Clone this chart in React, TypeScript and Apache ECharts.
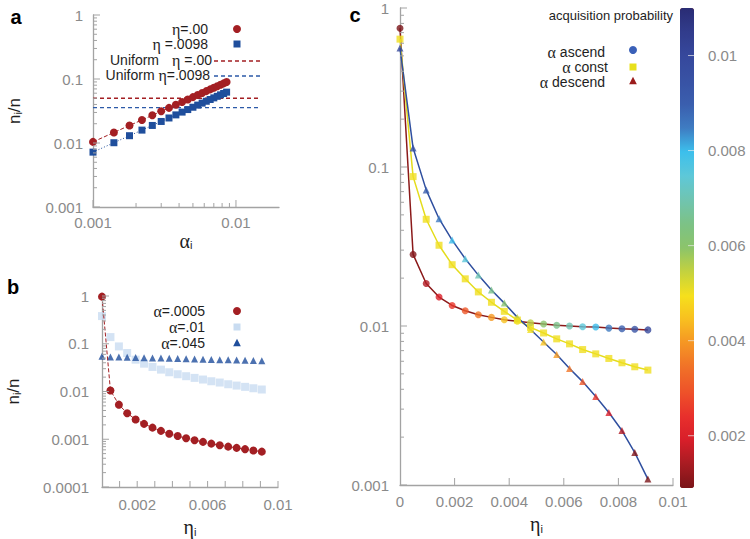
import React, { useEffect, useRef } from 'react';
import * as echarts from 'echarts';

// ---------- Panel a ----------
const aAlpha = [0.001, 0.0014, 0.0018, 0.0022, 0.0026, 0.003, 0.0034, 0.0038, 0.0042, 0.0046, 0.005, 0.0054, 0.0058, 0.0062, 0.0066, 0.007, 0.0074, 0.0078, 0.0082, 0.0086];
const aEta00 = [0.0104, 0.0146, 0.0188, 0.0229, 0.0271, 0.0313, 0.0354, 0.0396, 0.0438, 0.0479, 0.0521, 0.0563, 0.0604, 0.0646, 0.0688, 0.0729, 0.0771, 0.0813, 0.0854, 0.0896];
const aEta0098 = [0.0072, 0.0101, 0.013, 0.0159, 0.0188, 0.0217, 0.0246, 0.0275, 0.0304, 0.0333, 0.0362, 0.0391, 0.042, 0.0449, 0.0478, 0.0507, 0.0536, 0.0565, 0.0594, 0.0623];
const aUniformX = [0.001, 0.0145];
const aUniform00 = 0.05;
const aUniform0098 = 0.0356;

// ---------- Panel b / c shared eta ----------
const eta = [0, 0.00048, 0.00096, 0.00143, 0.00191, 0.00239, 0.00287, 0.00335, 0.00382, 0.0043, 0.00478, 0.00526, 0.00574, 0.00621, 0.00669, 0.00717, 0.00765, 0.00813, 0.0086, 0.00908];

// ---------- Panel b ----------
const bAlpha0005 = [0.97, 0.0105, 0.0053, 0.0035, 0.0026, 0.0021, 0.00175, 0.0015, 0.0013, 0.00117, 0.00105, 0.00095, 0.00088, 0.00081, 0.00075, 0.0007, 0.00066, 0.00062, 0.00058, 0.00055];
const bAlpha01 = [0.38, 0.138, 0.088, 0.064, 0.0464, 0.0383, 0.0327, 0.0287, 0.0253, 0.023, 0.0209, 0.0193, 0.0178, 0.0164, 0.0154, 0.0142, 0.0133, 0.0125, 0.0117, 0.011];
const bAlpha045 = [0.0545, 0.053, 0.0525, 0.052, 0.0515, 0.051, 0.0505, 0.05, 0.0495, 0.049, 0.0485, 0.048, 0.0475, 0.047, 0.0465, 0.046, 0.0455, 0.045, 0.0445, 0.044];

// ---------- Panel c ----------
const cAscend = [0.746, 0.0282, 0.0185, 0.0152, 0.01346, 0.01247, 0.01177, 0.01133, 0.01096, 0.0107, 0.01047, 0.0103, 0.0101, 0.01, 0.0099, 0.00986, 0.0097, 0.0096, 0.00955, 0.00945];
const cConst = [0.637, 0.087, 0.0469, 0.0322, 0.0243, 0.0198, 0.01638, 0.0141, 0.01236, 0.0109, 0.0098, 0.00904, 0.0083, 0.00772, 0.00711, 0.00668, 0.00625, 0.00587, 0.00554, 0.00528];
const cDescend = [0.56, 0.1315, 0.0718, 0.0473, 0.0347, 0.0265, 0.0209, 0.01686, 0.01393, 0.01133, 0.0095, 0.00794, 0.00662, 0.0054, 0.00447, 0.0036, 0.00286, 0.0022, 0.0016, 0.00109];
const cAscendAlpha = [0.0005, 0.001, 0.0015, 0.002, 0.0025, 0.003, 0.0035, 0.004, 0.0045, 0.005, 0.0055, 0.006, 0.0065, 0.007, 0.0075, 0.008, 0.0085, 0.009, 0.0095, 0.01];
const cDescendAlpha = [0.01, 0.0095, 0.009, 0.0085, 0.008, 0.0075, 0.007, 0.0065, 0.006, 0.0055, 0.005, 0.0045, 0.004, 0.0035, 0.003, 0.0025, 0.002, 0.0015, 0.001, 0.0005];
const cConstAlpha = 0.005;

// colour bar
const cbMin = 0.0009;
const cbMax = 0.011;
const cbTicks = [0.002, 0.004, 0.006, 0.008, 0.01];
const cbColors = ['#7a1418', '#a81c22', '#d81e2a', '#e8302c', '#ee5229', '#f07028', '#f59424', '#f8be20', '#f6e01c', '#c4d23e', '#8cc46a', '#7cc286', '#70c4b0', '#5ec8d8', '#3cbfec', '#3f7cc2', '#3a5eae', '#3852a4', '#36489c', '#313c8c', '#2a2c74'];

// tick values / labels
const logMajor3 = [-3, -2, -1, 0];
const logMajor4 = [-4, -3, -2, -1, 0];
const aAlphaLabels = [-3, -2];
const bEtaLabels = [0.002, 0.006, 0.01];
const bEtaTicks = [0.001, 0.002, 0.003, 0.004, 0.005, 0.006, 0.007, 0.008, 0.009, 0.01];
const cEtaTicks = [0.002, 0.004, 0.006, 0.008, 0.01];

const FONT = "'Liberation Sans', Arial, Helvetica, sans-serif";
const SERIF = "'Liberation Serif', 'DejaVu Serif', serif";
const AXIS_COLOR = '#a3a3a3';
const LABEL_COLOR = '#8a8a8a';
const TEXT_COLOR = '#1e1e1e';
const RED = '#a31f23';
const BLUE = '#1f4e9c';
const LIGHTBLUE = '#c9dcf1';

const L = (v: number) => Math.log10(v);
const logLabel = (v: number) => String(parseFloat(Math.pow(10, v).toPrecision(3)));
const plainLabel = (v: number) => String(parseFloat(v.toPrecision(3)));

function minorLog(lo: number, hi: number) {
  const out: number[] = [];
  for (let d = lo; d < hi; d++) for (let k = 2; k <= 9; k++) out.push(d + Math.log10(k));
  return out;
}

function mainAxis(o: any) {
  return {
    type: 'value',
    gridIndex: o.grid,
    min: o.min,
    max: o.max,
    position: o.position,
    interval: o.interval,
    name: o.name,
    nameLocation: 'middle',
    nameGap: o.nameGap,
    nameTextStyle: o.nameTextStyle,
    axisLine: { show: o.line !== false, onZero: false, lineStyle: { color: AXIS_COLOR, width: 1.3 } },
    axisTick: { show: false },
    axisLabel: { show: true, color: LABEL_COLOR, fontSize: 15, fontFamily: FONT, margin: o.margin, customValues: o.labels, formatter: o.formatter },
    splitLine: { show: false },
  };
}

// ticks drawn through the axes' own scales with a custom series
function tickSeries(xi: number, yi: number, pts: number[][], dx: number, dy: number, color = AXIS_COLOR, z = 5) {
  return {
    type: 'custom', xAxisIndex: xi, yAxisIndex: yi, clip: false, silent: true, z,
    data: pts,
    renderItem: (params: any, api: any) => {
      const p = api.coord([api.value(0), api.value(1)]);
      return { type: 'line', shape: { x1: p[0], y1: p[1], x2: p[0] + dx, y2: p[1] + dy }, style: { stroke: color, lineWidth: 1 } };
    },
  };
}

const subRich = (main: any) => ({
  m: { ...main },
  s: { fontSize: 11, fontFamily: FONT, color: TEXT_COLOR, verticalAlign: 'bottom' },
});
const nRich = subRich({ fontSize: 17, fontFamily: FONT, color: TEXT_COLOR });
const greekRich = subRich({ fontSize: 20, fontFamily: SERIF, color: TEXT_COLOR });

const legendRich = {
  g: { fontFamily: SERIF, fontSize: 16, color: TEXT_COLOR, lineHeight: 14 },
};

function legendText(x: number, y: number, text: string, align = 'right', size = 14) {
  return {
    type: 'text', x, y, z: 50,
    style: { text, fill: TEXT_COLOR, fontSize: size, lineHeight: 14, fontFamily: FONT, align, verticalAlign: 'middle', rich: legendRich },
  };
}
function dot(x: number, y: number, r: number, color: string) {
  return { type: 'circle', z: 50, shape: { cx: x, cy: y, r }, style: { fill: color } };
}
function square(x: number, y: number, s: number, color: string) {
  return { type: 'rect', z: 50, shape: { x: x - s / 2, y: y - s / 2, width: s, height: s }, style: { fill: color } };
}
function tri(x: number, y: number, s: number, color: string) {
  return { type: 'polygon', z: 50, shape: { points: [[x, y - s * 0.6], [x - s * 0.55, y + s * 0.45], [x + s * 0.55, y + s * 0.45]] }, style: { fill: color } };
}
function dash(x1: number, x2: number, y: number, color: string) {
  return { type: 'line', z: 50, shape: { x1, y1: y, x2, y2: y }, style: { stroke: color, lineWidth: 1.3, lineDash: [4, 3] } };
}
function letter(x: number, y: number, t: string) {
  return { type: 'text', x, y, z: 50, style: { text: t, fill: '#000', fontSize: 20, fontWeight: 'bold', fontFamily: FONT, align: 'center', verticalAlign: 'middle' } };
}

export default function App() {
  const ref = useRef<HTMLDivElement>(null);
  useEffect(() => {
    document.body.style.margin = '0';
    const chart = echarts.init(ref.current!, null, { renderer: 'svg' });

    const pairsLog = (xs: number[], ys: number[]) => xs.map((x, i) => [L(x), L(ys[i])]);
    const pairsLin = (xs: number[], ys: number[]) => xs.map((x, i) => [x, L(ys[i])]);
    const aXMax = L(0.02);

    const option: any = {
      animation: false,
      backgroundColor: '#ffffff',
      grid: [
        { left: 93, top: 15, width: 186, height: 192 },
        { left: 102, top: 296, width: 176, height: 191 },
        { left: 400, top: 8, width: 273, height: 480 },
        { left: 680, top: 8, width: 14, height: 480 },
      ],
      xAxis: [
        mainAxis({ grid: 0, min: -3, max: aXMax, position: 'bottom', labels: aAlphaLabels, formatter: logLabel, margin: 8,
          name: '{m|α}{s|i}', nameGap: 22, nameTextStyle: { rich: greekRich } }),
        mainAxis({ grid: 1, min: 0, max: 0.01, position: 'bottom', labels: bEtaLabels, formatter: plainLabel, margin: 10,
          name: '{m|η}{s|i}', nameGap: 30, nameTextStyle: { rich: greekRich } }),
        mainAxis({ grid: 2, min: 0, max: 0.01, interval: 0.002, position: 'bottom', formatter: plainLabel, margin: 9,
          name: '{m|η}{s|i}', nameGap: 29, nameTextStyle: { rich: greekRich } }),
        { type: 'value', gridIndex: 3, min: 0, max: 1, show: false },
      ],
      yAxis: [
        mainAxis({ grid: 0, min: -3, max: 0, interval: 1, position: 'left', formatter: logLabel, margin: 10,
          name: '{m|n}{s|i}{m|/n}', nameGap: 70, nameTextStyle: { rich: nRich } }),
        mainAxis({ grid: 1, min: -4, max: 0, interval: 1, position: 'left', formatter: logLabel, margin: 13,
          name: '{m|n}{s|i}{m|/n}', nameGap: 80, nameTextStyle: { rich: nRich } }),
        mainAxis({ grid: 2, min: -3, max: 0, interval: 1, position: 'left', formatter: logLabel, margin: 11 }),
        mainAxis({ grid: 3, min: cbMin, max: cbMax, position: 'right', labels: cbTicks, formatter: plainLabel, margin: 14, line: false }),
      ],
      visualMap: [{
        type: 'continuous', min: cbMin, max: cbMax, dimension: 2, seriesIndex: [10, 11, 12],
        left: 680, top: 8, itemWidth: 14, itemHeight: 480, padding: 0, calculable: false, hoverLink: false,
        inRange: { color: cbColors }, outOfRange: { color: ['#7a1418'] },
      }],
      series: [
        { type: 'line', xAxisIndex: 0, yAxisIndex: 0, data: pairsLog(aAlpha, aEta00), symbol: 'circle', symbolSize: 8,
          itemStyle: { color: RED }, lineStyle: { color: RED, width: 1, type: [4, 2] }, z: 3 },
        { type: 'line', xAxisIndex: 0, yAxisIndex: 0, data: pairsLog(aAlpha, aEta0098), symbol: 'rect', symbolSize: 7,
          itemStyle: { color: BLUE }, lineStyle: { color: BLUE, width: 1, type: [1, 2] }, z: 3 },
        { type: 'line', xAxisIndex: 0, yAxisIndex: 0, data: aUniformX.map((x) => [L(x), L(aUniform00)]), symbol: 'none',
          lineStyle: { color: RED, width: 1.3, type: [4, 3] } },
        { type: 'line', xAxisIndex: 0, yAxisIndex: 0, data: aUniformX.map((x) => [L(x), L(aUniform0098)]), symbol: 'none',
          lineStyle: { color: '#2c5aa8', width: 1.3, type: [4, 3] } },

        { type: 'line', xAxisIndex: 1, yAxisIndex: 1, data: pairsLin(eta, bAlpha0005), symbol: 'circle', symbolSize: 8,
          itemStyle: { color: RED }, lineStyle: { color: RED, width: 1, type: [4, 2] }, z: 4 },
        { type: 'scatter', xAxisIndex: 1, yAxisIndex: 1, data: pairsLin(eta, bAlpha01), symbol: 'rect', symbolSize: 8,
          itemStyle: { color: LIGHTBLUE }, z: 2 },
        { type: 'scatter', xAxisIndex: 1, yAxisIndex: 1, data: pairsLin(eta, bAlpha045), symbol: 'triangle', symbolSize: 7,
          itemStyle: { color: BLUE }, z: 3 },

        { type: 'line', xAxisIndex: 2, yAxisIndex: 2, data: pairsLin(eta, cAscend), symbol: 'none', lineStyle: { color: '#8b1a1a', width: 1.5 } },
        { type: 'line', xAxisIndex: 2, yAxisIndex: 2, data: pairsLin(eta, cConst), symbol: 'none', lineStyle: { color: '#e4dc1c', width: 1.5 } },
        { type: 'line', xAxisIndex: 2, yAxisIndex: 2, data: pairsLin(eta, cDescend), symbol: 'none', lineStyle: { color: '#2f4f9f', width: 1.5 } },
        { type: 'scatter', xAxisIndex: 2, yAxisIndex: 2, data: eta.map((x, i) => [x, L(cAscend[i]), cAscendAlpha[i]]), symbol: 'circle', symbolSize: 7, z: 4 },
        { type: 'scatter', xAxisIndex: 2, yAxisIndex: 2, data: eta.map((x, i) => [x, L(cConst[i]), cConstAlpha]), symbol: 'rect', symbolSize: 7, z: 3 },
        { type: 'scatter', xAxisIndex: 2, yAxisIndex: 2, data: eta.map((x, i) => [x, L(cDescend[i]), cDescendAlpha[i]]), symbol: 'triangle', symbolSize: 7, z: 3 },

        // major ticks
        tickSeries(0, 0, logMajor3.map((v) => [-3, v]), 7, 0),
        tickSeries(0, 0, aAlphaLabels.map((v) => [v, -3]), 0, -7),
        tickSeries(1, 1, logMajor4.map((v) => [0, v]), 7, 0),
        tickSeries(1, 1, bEtaTicks.map((v) => [v, -4]), 0, -6),
        tickSeries(2, 2, logMajor3.map((v) => [0, v]), 7, 0),
        tickSeries(2, 2, cEtaTicks.map((v) => [v, -3]), 0, -7),
        // minor ticks (log decades)
        tickSeries(0, 0, minorLog(-3, 0).map((v) => [-3, v]), 4, 0),
        tickSeries(0, 0, minorLog(-3, -2).map((v) => [v, -3]), 0, -4),
        tickSeries(1, 1, minorLog(-4, 0).map((v) => [0, v]), 4, 0),
        tickSeries(2, 2, minorLog(-3, 0).map((v) => [0, v]), 4, 0),
        // colour-bar ticks
        tickSeries(3, 3, cbTicks.map((v) => [1, v]), -6, 0, 'rgba(235,235,235,0.7)', 20),
      ],
      graphic: [
        letter(16, 17, 'a'), letter(13, 287, 'b'), letter(355, 15, 'c'),
        // panel a legend
        legendText(208, 29, '{g|η}=.00'), dot(237, 29, 4, RED),
        legendText(208, 44, '{g|η} =.0098'), square(237, 44, 7, BLUE),
        legendText(110, 60, 'Uniform', 'left'), legendText(212, 60, '{g|η} =.00'), dash(214, 260, 61, RED),
        legendText(210, 75, 'Uniform {g|η}=.0098'), dash(214, 260, 76, '#2c5aa8'),
        // panel b legend
        legendText(205, 311, '{g|α}=.0005'), dot(237, 311, 4, RED),
        legendText(205, 327, '{g|α}=.01'), square(237, 327, 7, LIGHTBLUE),
        legendText(205, 343, '{g|α}=.045'), tri(237, 343, 7, BLUE),
        // panel c legend
        legendText(673, 15, 'acquisition probability', 'right', 13),
        legendText(605, 52, '{g|α} ascend'), dot(633, 50, 4, '#3a60b8'),
        legendText(608, 67, '{g|α} const'), square(633, 67, 7, '#e8e01c'),
        legendText(605, 82, '{g|α} descend'), tri(633, 81, 7, '#9b1c1c'),
      ],
    };
    chart.setOption(option);
    return () => chart.dispose();
  }, []);
  return <div ref={ref} style={{ width: 750, height: 539 }} />;
}
